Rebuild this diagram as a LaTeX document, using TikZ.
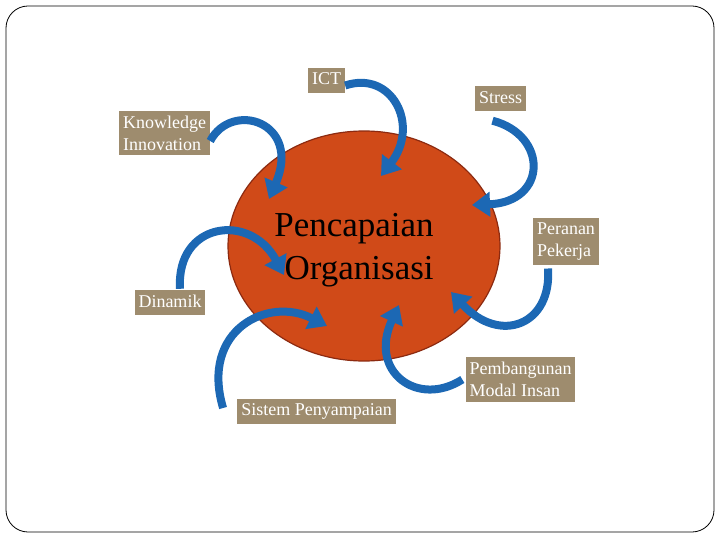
\documentclass[tikz,border=0pt]{standalone}
\usepackage{fontspec}
\setmainfont{Liberation Serif}
\usepackage{tikz}
\usetikzlibrary{arrows.meta}
\definecolor{SunOrange}{RGB}{208,74,24}
\definecolor{SunEdge}{RGB}{140,42,16}
\definecolor{BoxTan}{RGB}{158,140,110}
\definecolor{ArrowBlue}{RGB}{28,104,180}

\begin{document}
\begin{tikzpicture}[x=1pt, y=-1pt,
        every node/.append style={font=\fontsize{18}{22}\selectfont},
        curl/.style={ArrowBlue, line width=8pt, -{Triangle[width=24pt,length=18pt]}}]
      \tikzstyle{factor} = [fill=BoxTan, text=white, inner xsep=4pt, inner ysep=5pt, align=left]
      \tikzstyle{oneline} = [factor, text height=13pt, text depth=4pt, inner ysep=4pt]
      \useasboundingbox (0,0) rectangle (720,540);
      \draw[rounded corners=22pt, line width=0.8pt] (6,6) rectangle (714,532);
      \draw[fill=SunOrange, draw=SunEdge, line width=1.2pt] (364,246) ellipse [x radius=136, y radius=115];
      \node (goal) [align=right, font=\fontsize{35}{43}\selectfont] at (354,250) {Pencapaian\\Organisasi};
      \node (ict) [oneline] at (326.5,80.5) {ICT};
      \node (stress) [oneline] at (500.5,99) {Stress};
      \node (knowledge) [factor] at (164.5,133) {Knowledge\\Innovation};
      \node (peranan) [factor] at (566,241.5) {Peranan\\Pekerja};
      \node (dinamik) [oneline] at (170,302.5) {Dinamik};
      \node (sistem) [oneline] at (316.5,411) {Sistem Penyampaian};
      \node (pembangunan) [factor] at (520.5,379.5) {Pembangunan\\Modal Insan};
      \coordinate (icttip) at (381,176);
      \coordinate (knowtip) at (269,199);
      \coordinate (stresstip) at (472,205);
      \coordinate (perantip) at (451,292);
      \coordinate (dintip) at (284,275);
      \coordinate (sistip) at (327,326);
      \coordinate (pemtip) at (399,305);
      \draw[curl] ([yshift=-5pt]ict.east) .. controls (392,70) and (420,125) .. (icttip);
      \draw[curl] ([yshift=-8pt]knowledge.east) .. controls (232,100) and (302,122) .. (knowtip);
      \draw[curl] ([xshift=-8pt,yshift=-9pt]stress.south) .. controls (548,135) and (548,202) .. (stresstip);
      \draw[curl] ([xshift=-18pt,yshift=-3pt]peranan.south) .. controls (552,325) and (500,345) .. (perantip);
      \draw[curl] ([xshift=10pt,yshift=1pt]dinamik.north) .. controls (176,222) and (250,212) .. (dintip);
      \draw[curl] ([xshift=-14pt,yshift=3pt]sistem.west) .. controls (200,330) and (268,296) .. (sistip);
      \draw[curl] ([xshift=-3pt]pembangunan.west) .. controls (418,408) and (368,372) .. (pemtip);
    \end{tikzpicture}
\end{document}
